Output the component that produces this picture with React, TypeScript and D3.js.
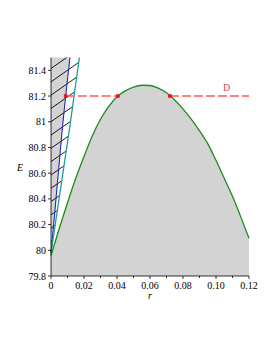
import { useEffect } from 'react';
import * as d3 from 'd3';

// green curve E(r)
const rValues = [0, 0.005, 0.01, 0.015, 0.02, 0.025, 0.03, 0.035, 0.04, 0.045, 0.05, 0.055, 0.06,
  0.065, 0.07, 0.075, 0.08, 0.085, 0.09, 0.095, 0.1, 0.105, 0.11, 0.115, 0.12];
const eValues = [79.96, 80.17, 80.37, 80.56, 80.73, 80.89, 81.02, 81.12, 81.195, 81.24, 81.27, 81.284, 81.282,
  81.262, 81.225, 81.17, 81.1, 81.02, 80.93, 80.83, 80.7, 80.56, 80.42, 80.26, 80.093];

// blue boundary (grey strip to its left)
const blueR = [0, 0.0024, 0.0068, 0.0089, 0.0115];
const blueE = [79.98, 80.31, 80.94, 81.2, 81.5];

// cyan boundary (hatched strip to its left)
const cyanR = [0, 0.0115, 0.0172];
const cyanE = [79.98, 80.97, 81.5];

// horizontal line D and its marked points
const levelD = 81.2;
const dSegments = [[0.0089, 0.0405], [0.0721, 0.12]];
const dPoints = [0.0089, 0.0405, 0.0721];

const xTicks = [0, 0.02, 0.04, 0.06, 0.08, 0.1, 0.12];
const xTickLabels = ['0', '0.02', '0.04', '0.06', '0.08', '0.10', '0.12'];
const xMinorTicks = [0.01, 0.03, 0.05, 0.07, 0.09, 0.11];
const yTicks = [79.8, 80, 80.2, 80.4, 80.6, 80.8, 81, 81.2, 81.4];
const yTickLabels = ['79.8', '80', '80.2', '80.4', '80.6', '80.8', '81', '81.2', '81.4'];

const W = 277;
const H = 358;
const font = '"Liberation Serif", "Times New Roman", serif';

export default function App() {
  useEffect(() => {
    document.body.style.margin = '0';
  }, []);

  const x = d3.scaleLinear().domain([0, 0.12]).range([51, 249]);
  const y = d3.scaleLinear().domain([79.8, 81.5]).range([276, 57.5]);

  const curvePts: [number, number][] = rValues.map((r, i) => [r, eValues[i]]);
  const line = d3.line<[number, number]>()
    .x(d => x(d[0]))
    .y(d => y(d[1]))
    .curve(d3.curveMonotoneX);
  const area = d3.area<[number, number]>()
    .x(d => x(d[0]))
    .y0(y(79.8))
    .y1(d => y(d[1]))
    .curve(d3.curveMonotoneX);

  const bluePts: [number, number][] = blueR.map((r, i) => [r, blueE[i]]);
  const cyanPts: [number, number][] = cyanR.map((r, i) => [r, cyanE[i]]);
  const straight = d3.line<[number, number]>().x(d => x(d[0])).y(d => y(d[1]));

  const greyStrip = straight([...bluePts, [0, 81.5], [0, blueE[0]]]) + 'Z';
  const hatchStrip = straight([...cyanPts, [0, 81.5], [0, cyanE[0]]]) + 'Z';

  // hatch lines, clipped to the cyan strip
  const hatchLines = d3.range(-6, 14).map(k => {
    const b = 121.7 + 13.3 * k;
    return { x1: 45, y1: b + 0.7 * 6, x2: 95, y2: b - 0.7 * 44 };
  });

  return (
    <svg width={W} height={H} style={{ display: 'block', background: '#fff' }}>
      <defs>
        <clipPath id="hatchClip">
          <path d={hatchStrip} />
        </clipPath>
      </defs>

      <path d={area(curvePts) || ''} fill="#d3d3d3" />
      <path d={greyStrip} fill="#d3d3d3" />
      <g clipPath="url(#hatchClip)">
        {hatchLines.map((l, i) => (
          <line key={i} x1={l.x1} y1={l.y1} x2={l.x2} y2={l.y2} stroke="#000" strokeWidth={0.9} />
        ))}
      </g>
      <path d={straight(bluePts) || ''} fill="none" stroke="#2828b4" strokeWidth={1.1} />
      <path d={straight(cyanPts) || ''} fill="none" stroke="#1f9e9e" strokeWidth={1.3} />
      <path d={line(curvePts) || ''} fill="none" stroke="#1e8c1e" strokeWidth={1.3} />

      {dSegments.map((s, i) => (
        <line key={i} x1={x(s[0])} x2={x(s[1])} y1={y(levelD)} y2={y(levelD)}
          stroke="#ff5a5a" strokeWidth={1.4} strokeDasharray="9,3" />
      ))}
      {dPoints.map((r, i) => (
        <rect key={i} x={x(r) - 1.8} y={y(levelD) - 1.8} width={3.6} height={3.6} fill="#ee1111" />
      ))}
      <text x={x(0.1065)} y={y(levelD) - 5} fill="#e04848" fontFamily={font} fontSize={10}
        textAnchor="middle">D</text>

      {/* axes */}
      <line x1={x(0)} x2={x(0)} y1={y(81.5)} y2={y(79.8)} stroke="#000" strokeWidth={0.8} />
      <line x1={x(0)} x2={x(0.12)} y1={y(79.8)} y2={y(79.8)} stroke="#000" strokeWidth={0.8} />
      {yTicks.map((v, i) => (
        <g key={i}>
          <line x1={x(0) - 3} x2={x(0)} y1={y(v)} y2={y(v)} stroke="#000" strokeWidth={0.8} />
          <text x={x(0) - 5} y={y(v) + 3.5} textAnchor="end" fontFamily={font} fontSize={10}
            fill="#000">{yTickLabels[i]}</text>
        </g>
      ))}
      {xTicks.map((v, i) => (
        <g key={i}>
          <line x1={x(v)} x2={x(v)} y1={y(79.8)} y2={y(79.8) + 3} stroke="#000" strokeWidth={0.8} />
          <text x={x(v)} y={y(79.8) + 13} textAnchor="middle" fontFamily={font} fontSize={10}
            fill="#000">{xTickLabels[i]}</text>
        </g>
      ))}
      {xMinorTicks.map((v, i) => (
        <line key={i} x1={x(v)} x2={x(v)} y1={y(79.8)} y2={y(79.8) + 2} stroke="#000" strokeWidth={0.8} />
      ))}
      <text x={x(0.06)} y={299} textAnchor="middle" fontFamily={font} fontSize={10}
        fontStyle="italic">r</text>
      <text x={20} y={171} textAnchor="middle" fontFamily={font} fontSize={10}
        fontStyle="italic">E</text>
    </svg>
  );
}
